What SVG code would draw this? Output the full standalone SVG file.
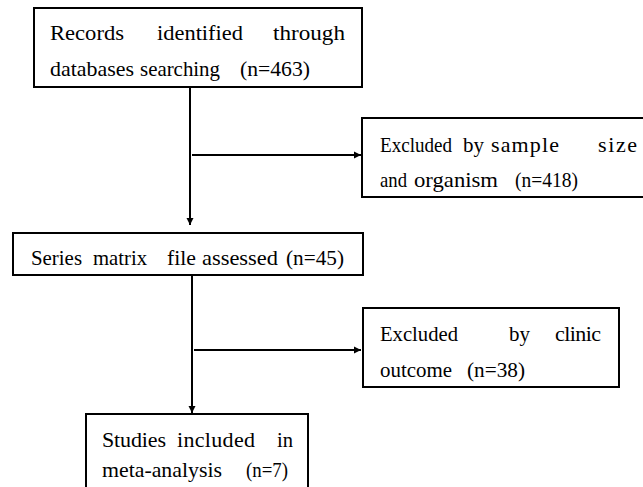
<svg xmlns="http://www.w3.org/2000/svg" width="643" height="487" viewBox="0 0 643 487">
<style>
.box{fill:#fff;stroke:#000;stroke-width:2}
.c{stroke:#000;stroke-width:2;fill:none}
.t{font-family:'Liberation Serif','Times New Roman',serif;font-size:22px;fill:#000}
</style>
<defs>
<marker id="ah" markerWidth="8" markerHeight="8" refX="7" refY="4" orient="auto" markerUnits="userSpaceOnUse">
<path d="M0,0.5 L7,4 L0,7.5 Z" fill="#000"/>
</marker>
</defs>
<rect width="643" height="487" fill="#fff"/>
<g id="connectors">
<line class="c" x1="190" y1="87" x2="190" y2="225" marker-end="url(#ah)"/>
<line class="c" x1="192" y1="155" x2="361" y2="155" marker-end="url(#ah)"/>
<line class="c" x1="192" y1="276" x2="192" y2="413" marker-end="url(#ah)"/>
<line class="c" x1="194" y1="350" x2="361" y2="350" marker-end="url(#ah)"/>
</g>
<g id="records">
<rect class="box" x="34" y="8" width="328" height="79"/>
<text class="t" y="40"><tspan x="50" textLength="74" lengthAdjust="spacingAndGlyphs">Records</tspan> <tspan x="157" textLength="86" lengthAdjust="spacingAndGlyphs">identified</tspan> <tspan x="273" textLength="72" lengthAdjust="spacingAndGlyphs">through</tspan></text>
<text class="t" y="76"><tspan x="50" textLength="84" lengthAdjust="spacingAndGlyphs">databases</tspan> <tspan x="140" textLength="80" lengthAdjust="spacingAndGlyphs">searching</tspan> <tspan x="240" textLength="70" lengthAdjust="spacingAndGlyphs">(n=463)</tspan></text>
</g>
<g id="excluded1">
<rect class="box" x="362" y="118" width="290" height="79"/>
<text class="t" y="152"><tspan x="380" textLength="72" lengthAdjust="spacingAndGlyphs">Excluded</tspan> <tspan x="463" textLength="21" lengthAdjust="spacingAndGlyphs">by</tspan> <tspan x="491" textLength="68" lengthAdjust="spacing">sample</tspan> <tspan x="598" textLength="39" lengthAdjust="spacing">size</tspan></text>
<text class="t" y="187"><tspan x="380" textLength="27" lengthAdjust="spacingAndGlyphs">and</tspan> <tspan x="414" textLength="84" lengthAdjust="spacingAndGlyphs">organism</tspan> <tspan x="515" textLength="63" lengthAdjust="spacingAndGlyphs">(n=418)</tspan></text>
</g>
<g id="series">
<rect class="box" x="13" y="233" width="350" height="42"/>
<text class="t" y="265"><tspan x="31" textLength="51" lengthAdjust="spacingAndGlyphs">Series</tspan> <tspan x="93" textLength="54" lengthAdjust="spacingAndGlyphs">matrix</tspan> <tspan x="167" textLength="29" lengthAdjust="spacingAndGlyphs">file</tspan> <tspan x="202" textLength="76" lengthAdjust="spacingAndGlyphs">assessed</tspan> <tspan x="286" textLength="58" lengthAdjust="spacingAndGlyphs">(n=45)</tspan></text>
</g>
<g id="excluded2">
<rect class="box" x="363" y="308" width="256" height="79"/>
<text class="t" y="341"><tspan x="380" textLength="78" lengthAdjust="spacingAndGlyphs">Excluded</tspan> <tspan x="509" textLength="21" lengthAdjust="spacingAndGlyphs">by</tspan> <tspan x="555" textLength="46" lengthAdjust="spacing">clinic</tspan></text>
<text class="t" y="377"><tspan x="380" textLength="72" lengthAdjust="spacingAndGlyphs">outcome</tspan> <tspan x="467" textLength="58" lengthAdjust="spacingAndGlyphs">(n=38)</tspan></text>
</g>
<g id="studies">
<rect class="box" x="86" y="414" width="222" height="90"/>
<text class="t" y="447"><tspan x="102" textLength="64" lengthAdjust="spacing">Studies</tspan> <tspan x="177" textLength="78" lengthAdjust="spacing">included</tspan> <tspan x="277" textLength="16" lengthAdjust="spacingAndGlyphs">in</tspan></text>
<text class="t" y="477"><tspan x="102" textLength="120" lengthAdjust="spacingAndGlyphs">meta-analysis</tspan> <tspan x="246" textLength="42" lengthAdjust="spacingAndGlyphs">(n=7)</tspan></text>
</g>
</svg>
